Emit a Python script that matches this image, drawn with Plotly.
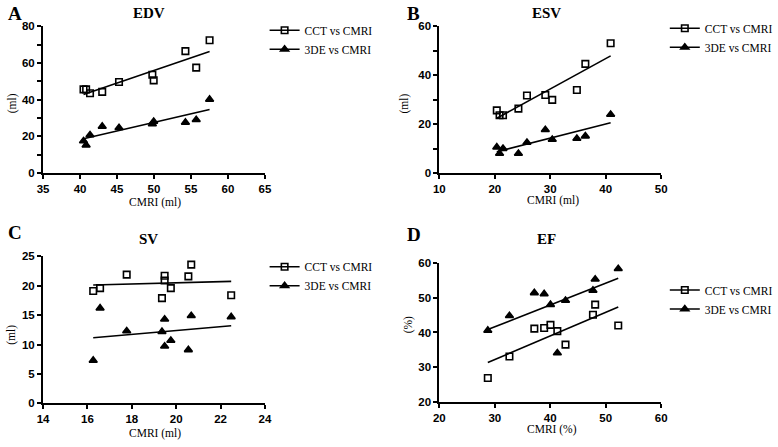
import numpy as np
import plotly.graph_objects as go

W, H = 778, 447

# ---------------- data ----------------
edv_cmri = [40.47, 40.82, 41.35, 43.0, 45.27, 49.78, 49.96, 54.25, 55.71, 57.52]
edv_cct = [45.6, 45.6, 43.5, 44.2, 49.6, 53.5, 50.5, 66.4, 57.4, 72.3]
edv_3de = [17.5, 15.2, 20.7, 25.4, 24.7, 26.8, 28.1, 27.6, 29.0, 40.1]

esv_cmri = [20.36, 20.86, 21.48, 24.26, 25.8, 29.11, 30.36, 34.8, 36.33, 40.89]
esv_cct = [25.6, 23.6, 23.6, 26.3, 31.7, 31.9, 29.9, 33.9, 44.6, 53.0]
esv_3de = [10.6, 8.0, 10.0, 8.0, 12.5, 17.7, 13.7, 14.1, 15.1, 23.9]

sv_cmri = [16.26, 16.57, 17.77, 19.36, 19.48, 19.48, 19.76, 20.55, 20.68, 22.48]
sv_cct = [19.1, 19.6, 21.9, 17.9, 21.7, 20.9, 19.6, 21.6, 23.6, 18.4]
sv_3de = [7.3, 16.2, 12.3, 12.2, 14.3, 9.7, 10.7, 9.1, 14.9, 14.7]

ef_cmri = [28.74, 32.64, 37.13, 38.9, 40.04, 41.28, 42.75, 47.7, 48.1, 52.26]
ef_cct = [26.9, 33.1, 41.1, 41.3, 42.2, 40.4, 36.5, 45.1, 48.0, 42.0]
ef_3de = [40.6, 44.8, 51.4, 51.1, 48.0, 34.1, 49.2, 52.1, 55.3, 58.3]

series_names = ["CCT vs CMRI", "3DE vs CMRI"]
panel_letters = ["A", "B", "C", "D"]
panel_titles = ["EDV", "ESV", "SV", "EF"]
x_titles = ["CMRI (ml)", "CMRI (ml)", "CMRI (ml)", "CMRI (%)"]
y_titles = ["(ml)", "(ml)", "(ml)", "(%)"]

panels = [
    (edv_cmri, edv_cct, edv_3de),
    (esv_cmri, esv_cct, esv_3de),
    (sv_cmri, sv_cct, sv_3de),
    (ef_cmri, ef_cct, ef_3de),
]

# ---------------- layout geometry (pixels) ----------------
# (x0, x1, ytop, ybottom)
boxes = [
    (37.7, 263.3, 20.7, 171.7),
    (440.7, 666.3, 20.7, 171.7),
    (37.7, 263.3, 257.3, 408.3),
    (440.7, 666.3, 264.0, 407.0),
]
x_ranges = [[35, 65], [10, 50], [14, 24], [20, 60]]
y_ranges = [[0, 80], [0, 60], [0, 25], [20, 60]]
x_dticks = [5, 10, 2, 10]
y_dticks = [20, 20, 5, 10]
y_minor = [10, 10, None, None]

letter_pos = [(9, 8), (414, 8), (9, 233), (415, 235)]
title_pos = [(145, 7), (550, 7), (145, 239), (550, 239)]
xtitle_pos = [(152, 202), (556, 200), (152, 439), (555, 435)]
ytitle_pos = [(6, 100), (405, 100), (6, 338), (409, 328)]
legend_pos = [(263, 10), (670, 8), (263, 253), (670, 277)]


def px(x):
    return x / W


def py(y):
    return 1 - y / H


SERIF = "Liberation Serif"
SANS = "Liberation Sans"

fig = go.Figure()
annotations = []
layout = {}

for i, (cmri, cct, tde) in enumerate(panels):
    k = "" if i == 0 else str(i + 1)
    xa, ya = "x" + k, "y" + k
    leg = "legend" if i == 0 else "legend" + str(i + 1)

    for j, (yy, sym) in enumerate([(cct, "square-open"), (tde, "triangle-up")]):
        mk = dict(symbol=sym, size=6.5 if j == 0 else 7, color="black",
                  line=dict(color="black", width=1.6))
        fig.add_trace(go.Scatter(x=cmri, y=yy, mode="markers", marker=mk,
                                 xaxis=xa, yaxis=ya, showlegend=False))
        slope, inter = np.polyfit(cmri, yy, 1)
        xs = np.array([min(cmri), max(cmri)])
        fig.add_trace(go.Scatter(x=xs, y=slope * xs + inter, mode="lines",
                                 line=dict(color="black", width=1.6),
                                 xaxis=xa, yaxis=ya, showlegend=False,
                                 hoverinfo="skip"))
        fig.add_trace(go.Scatter(x=[None], y=[None], mode="lines+markers",
                                 marker=mk, line=dict(color="black", width=1.6),
                                 name=series_names[j], xaxis=xa, yaxis=ya,
                                 showlegend=True, legend=leg))

    x0, x1, yt, yb = boxes[i]
    axis_common = dict(showline=True, linecolor="black", linewidth=2,
                       ticks="outside", ticklen=4, tickwidth=2, tickcolor="black",
                       showgrid=False, zeroline=False,
                       tickfont=dict(family=SANS, size=11.5, color="black", weight="bold"))
    layout["xaxis" + k] = dict(domain=[px(x0), px(x1)], range=x_ranges[i],
                               dtick=x_dticks[i], tick0=0, anchor=ya, **axis_common)
    yax = dict(domain=[py(yb), py(yt)], range=y_ranges[i], dtick=y_dticks[i],
               tick0=0, anchor=xa, **axis_common)
    if y_minor[i]:
        yax["minor"] = dict(dtick=y_minor[i], ticks="outside", ticklen=4,
                            tickwidth=2, tickcolor="black", showgrid=False)
    layout["yaxis" + k] = yax

    lx, ly = legend_pos[i]
    layout[leg] = dict(x=px(lx), y=py(ly), xanchor="left", yanchor="top",
                       bgcolor="rgba(0,0,0,0)", borderwidth=0, itemwidth=30,
                       font=dict(family=SERIF, size=11.5, color="black"),
                       tracegroupgap=0)

    annotations.append(dict(text="<b>%s</b>" % panel_letters[i], x=px(letter_pos[i][0]),
                            y=py(letter_pos[i][1]), xref="paper", yref="paper",
                            showarrow=False, xanchor="center", yanchor="middle",
                            font=dict(family=SERIF, size=19, color="black")))
    annotations.append(dict(text="<b>%s</b>" % panel_titles[i], x=px(title_pos[i][0]),
                            y=py(title_pos[i][1]), xref="paper", yref="paper",
                            showarrow=False, xanchor="center", yanchor="middle",
                            font=dict(family=SERIF, size=15, color="black")))
    annotations.append(dict(text=x_titles[i], x=px(xtitle_pos[i][0]),
                            y=py(xtitle_pos[i][1]), xref="paper", yref="paper",
                            showarrow=False, xanchor="center", yanchor="middle",
                            font=dict(family=SERIF, size=11.5, color="black")))
    annotations.append(dict(text=y_titles[i], x=px(ytitle_pos[i][0]),
                            y=py(ytitle_pos[i][1]), xref="paper", yref="paper",
                            showarrow=False, xanchor="center", yanchor="middle",
                            textangle=-90,
                            font=dict(family=SERIF, size=11.5, color="black")))

fig.update_layout(width=W, height=H, margin=dict(l=0, r=0, t=0, b=0),
                  paper_bgcolor="white", plot_bgcolor="white",
                  annotations=annotations, **layout)

fig.write_html("out.html", config={"displayModeBar": False},
               post_script="document.body.style.margin='0';document.body.style.overflow='hidden';")
